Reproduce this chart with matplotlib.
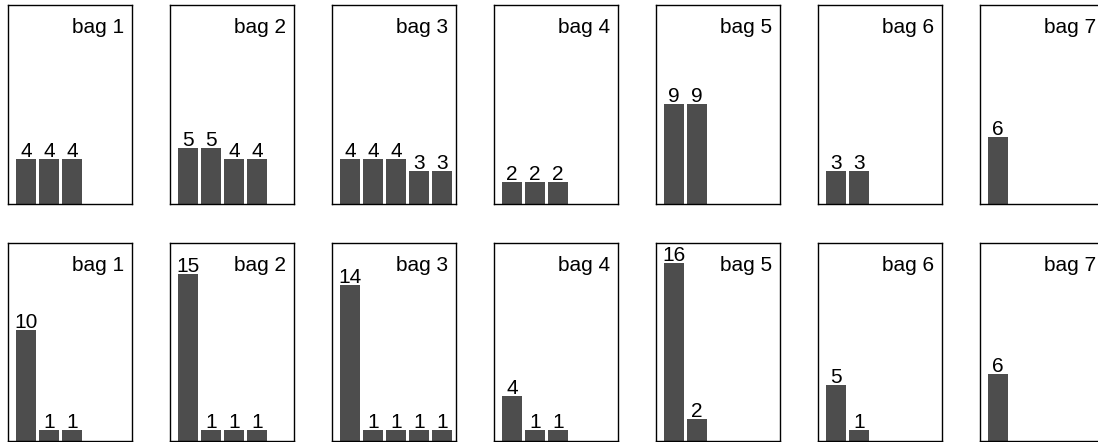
import matplotlib.pyplot as plt

plt.rcParams['font.family'] = ['Liberation Sans', 'DejaVu Sans']

# Data.
bags = ['bag 1', 'bag 2', 'bag 3', 'bag 4', 'bag 5', 'bag 6', 'bag 7']
top_counts = [[4, 4, 4], [5, 5, 4, 4], [4, 4, 4, 3, 3], [2, 2, 2],
              [9, 9], [3, 3], [6]]
bottom_counts = [[10, 1, 1], [15, 1, 1, 1], [14, 1, 1, 1, 1], [4, 1, 1],
                 [16, 2], [5, 1], [6]]

# Figure size in pixels.
W, H = 1098, 442
fig = plt.figure(figsize=(W / 100, H / 100), dpi=100)

# Panel layout in pixels: (counts, top, bottom).
rows = [(top_counts, 5, 204), (bottom_counts, 242.7, 440.7)]
panel_w = 124
panel_step = 162
bar_color = '#4d4d4d'

for counts, y_top, y_bot in rows:
    panel_h = y_bot - y_top
    for i, (bag, vals) in enumerate(zip(bags, counts)):
        x0 = 8 + panel_step * i
        ax = fig.add_axes([x0 / W, 1 - y_bot / H, panel_w / W, panel_h / H])
        xs = list(range(len(vals)))
        ax.bar(xs, vals, width=0.87, color=bar_color)
        ax.set_xlim(-0.783, 4.609)
        ax.set_ylim(0, 17.85)
        ax.set_xticks([])
        ax.set_yticks([])
        for s in ax.spines.values():
            s.set_linewidth(1.0)
            s.set_color('black')
        # Value labels above bars.
        for x, v in zip(xs, vals):
            ax.annotate(str(v), (x, v), xytext=(0, 2), textcoords='offset pixels',
                        ha='center', va='baseline', fontsize=15, clip_on=False)
        # Bag name in the top right corner.
        ax.text(1 - 8 / panel_w, 1 - 28 / panel_h, bag, transform=ax.transAxes,
                ha='right', va='baseline', fontsize=15)

fig.savefig('out.png', dpi=100)
